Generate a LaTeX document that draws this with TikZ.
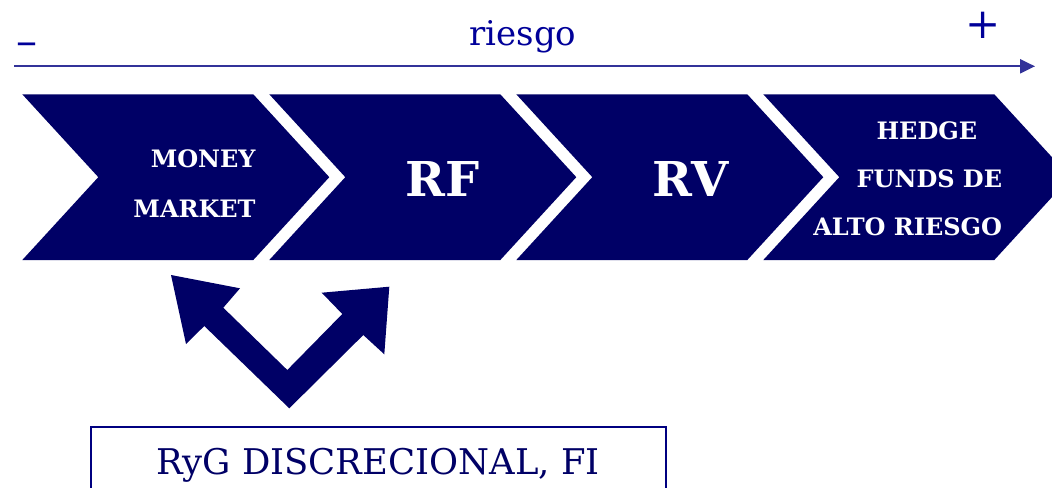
\documentclass[tikz,border=0pt]{standalone}
\usepackage{fontspec}
\setmainfont{DejaVu Serif}
\usetikzlibrary{calc,arrows.meta}
\definecolor{navy}{RGB}{0,0,102}
\definecolor{riskblue}{RGB}{0,0,153}
\definecolor{axisblue}{RGB}{51,51,153}
\definecolor{boxblue}{RGB}{0,0,128}

\begin{document}
\begin{tikzpicture}[x=0.5pt,y=-0.5pt,
	tag/.style={text=white,font=\bfseries\fontsize{12}{25}\selectfont,inner sep=0pt,align=right},
	big/.style={text=white,font=\bfseries\fontsize{24}{28}\selectfont,inner sep=0pt}]
\useasboundingbox (0,0) rectangle (1052,487);
% risk axis
\coordinate (lo) at (14,66.3);
\coordinate (hi) at (1035,66.3);
\draw[axisblue,line width=1.1pt,-{Triangle[length=7.5pt,width=7pt]}] (lo) -- (hi);
\node[riskblue,font=\fontsize{21}{21}\selectfont,anchor=base,inner sep=0pt] (minus) at (27.3,55) {–};
\node[riskblue,font=\fontsize{21}{21}\selectfont,inner sep=0pt] (plus) at (983,25) {+};
\node[riskblue,font=\fontsize{17}{17}\selectfont,anchor=base,inner sep=0pt] (risk) at (522.8,45.7) {riesgo};
% chevrons
\foreach \i in {0,...,3} {
	\fill[navy] ($ (22.3,94.3) + \i*(247,0) $) coordinate (C\i) -- ++(231,0) -- ++(76,82.85) -- ++(-76,82.85) -- ++(-231,0) -- ++(76,-82.85) -- cycle;
}
\node[tag,anchor=east] (mm) at (256,183.2) {MONEY\\MARKET};
\node[big] (rf) at (442.5,178.5) {RF};
\node[big] (rv) at (690.5,178.5) {RV};
\node[tag,font=\bfseries\fontsize{12}{24}\selectfont,anchor=east] (hf) at (1002.5,178.3) {HEDGE\hspace*{12.5pt}\\FUNDS DE\\ALTO RIESGO};
% two-way arrow
\fill[navy] (171,275) -- (240,288.3) -- (223.3,307.7) -- (287.3,370) -- (342.3,314) -- (321.7,292.7) -- (389.3,286.7) -- (384.3,354.3) -- (363.3,335) -- (289.3,408.3) -- (204.3,326) -- (186,344) -- cycle;
\node[draw=boxblue,line width=1pt,text=navy,font=\fontsize{17.7}{17.7}\selectfont,minimum width=287.4pt,inner ysep=10.6pt,anchor=north] (ryg) at (378.1,425.7) {RyG DISCRECIONAL, FI};
\end{tikzpicture}
\end{document}
